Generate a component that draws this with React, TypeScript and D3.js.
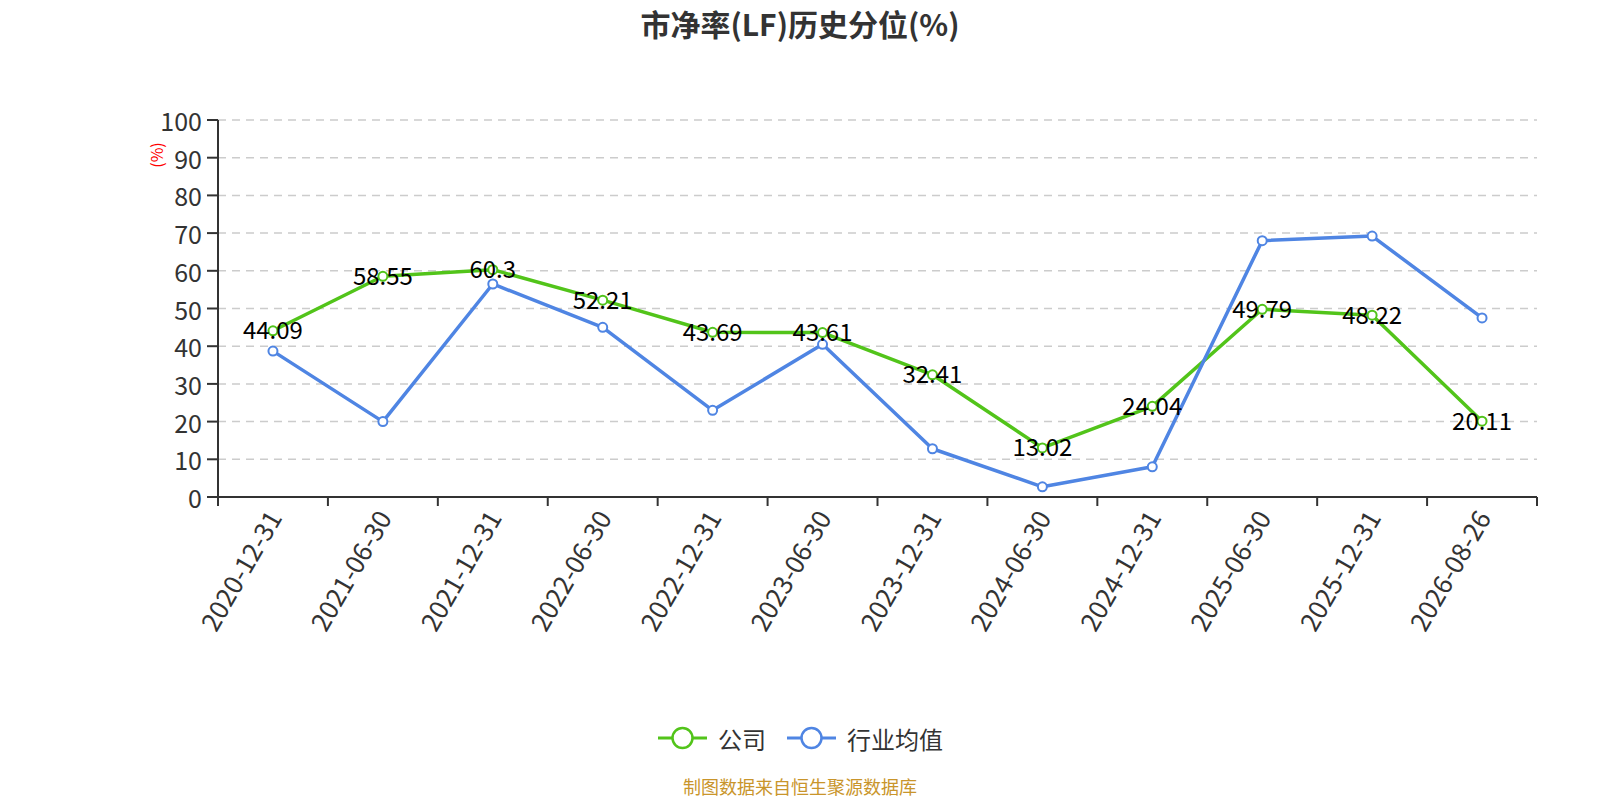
import React from "react";
import * as d3 from "d3";

const categories = [
  "2020-12-31", "2021-06-30", "2021-12-31", "2022-06-30", "2022-12-31", "2023-06-30",
  "2023-12-31", "2024-06-30", "2024-12-31", "2025-06-30", "2025-12-31", "2026-08-26",
];
const companyValues = [44.09, 58.55, 60.3, 52.21, 43.69, 43.61, 32.41, 13.02, 24.04, 49.79, 48.22, 20.11];
const industryValues = [38.7, 20.0, 56.5, 45.0, 23.0, 40.5, 12.8, 2.7, 8.0, 68.0, 69.2, 47.5];
const yTicks = [0, 10, 20, 30, 40, 50, 60, 70, 80, 90, 100];

const W = 1600;
const H = 800;
const margin = { left: 218, right: 63, top: 120, bottom: 303 };
const FONT = "'Noto Sans CJK SC', 'Noto Sans', sans-serif";
const GREEN = "#52c41a";
const BLUE = "#4f85e3";
const AXIS = "#333";

const App: React.FC = () => {
  const x = d3
    .scaleBand<string>()
    .domain(categories)
    .range([margin.left, W - margin.right]);
  const y = d3
    .scaleLinear()
    .domain([0, 100])
    .range([H - margin.bottom, margin.top]);

  const cx = (c: string) => (x(c) ?? 0) + x.bandwidth() / 2;
  const line = d3
    .line<number>()
    .x((_, i) => cx(categories[i]))
    .y((d) => y(d));

  const series = [
    { name: "公司", color: GREEN, values: companyValues },
    { name: "行业均值", color: BLUE, values: industryValues },
  ];

  const y0 = y(0);
  const boundaries = categories.map((c) => x(c) ?? 0).concat(W - margin.right);

  return (
    <div style={{ position: "fixed", left: 0, top: 0 }}>
      <svg width={W} height={H} style={{ display: "block", background: "#fff" }} fontFamily={FONT}>
        <text x={800} y={23} textAnchor="middle" dominantBaseline="central" fontSize={30} fontWeight="bold" fill="#333">
          市净率(LF)历史分位(%)
        </text>

        {/* grid */}
        {yTicks.filter((t) => t > 0).map((t) => (
          <line key={t} x1={margin.left} x2={W - margin.right} y1={y(t)} y2={y(t)} stroke="#ccc" strokeWidth={1.5} strokeDasharray="8 6" />
        ))}

        {/* y axis */}
        <line x1={margin.left} x2={margin.left} y1={margin.top} y2={y0} stroke={AXIS} strokeWidth={2} />
        {yTicks.map((t) => (
          <g key={t}>
            <line x1={margin.left - 11} x2={margin.left} y1={y(t)} y2={y(t)} stroke={AXIS} strokeWidth={2} />
            <text x={margin.left - 16} y={y(t)} textAnchor="end" dominantBaseline="central" fontSize={25} fill="#333">
              {t}
            </text>
          </g>
        ))}
        <text transform={`translate(156,155) rotate(-90)`} textAnchor="middle" dominantBaseline="central" fontSize={16} fill="red">
          (%)
        </text>

        {/* x axis */}
        <line x1={margin.left} x2={W - margin.right} y1={y0} y2={y0} stroke={AXIS} strokeWidth={2} />
        {boundaries.map((b, i) => (
          <line key={i} x1={b} x2={b} y1={y0} y2={y0 + 9} stroke={AXIS} strokeWidth={2} />
        ))}
        {categories.map((c) => (
          <text key={c} transform={`translate(${cx(c)},${y0 + 15}) rotate(-60)`} textAnchor="end" dominantBaseline="central" fontSize={26} fill="#333">
            {c}
          </text>
        ))}

        {/* lines */}
        {series.map((s) => (
          <g key={s.name}>
            <path d={line(s.values) ?? ""} fill="none" stroke={s.color} strokeWidth={3.5} strokeLinejoin="round" />
            {s.values.map((v, i) => (
              <circle key={i} cx={cx(categories[i])} cy={y(v)} r={4.5} fill="#fff" stroke={s.color} strokeWidth={2} />
            ))}
          </g>
        ))}

        {/* data labels */}
        {companyValues.map((v, i) => (
          <text key={i} x={cx(categories[i])} y={y(v) - 2} textAnchor="middle" dominantBaseline="central" fontSize={24} fill="#000">
            {v}
          </text>
        ))}

        {/* legend */}
        {series.map((s, i) => {
          const lx = i === 0 ? 658 : 787;
          const ly = 738;
          return (
            <g key={s.name}>
              <line x1={lx} x2={lx + 49} y1={ly} y2={ly} stroke={s.color} strokeWidth={3} />
              <circle cx={lx + 24.5} cy={ly} r={10} fill="#fff" stroke={s.color} strokeWidth={2.5} />
              <text x={lx + 60} y={ly} dominantBaseline="central" fontSize={24} fill="#333">
                {s.name}
              </text>
            </g>
          );
        })}

        <text x={800} y={786} textAnchor="middle" dominantBaseline="central" fontSize={18} fill="#c9952b">
          制图数据来自恒生聚源数据库
        </text>
      </svg>
    </div>
  );
};

export default App;
